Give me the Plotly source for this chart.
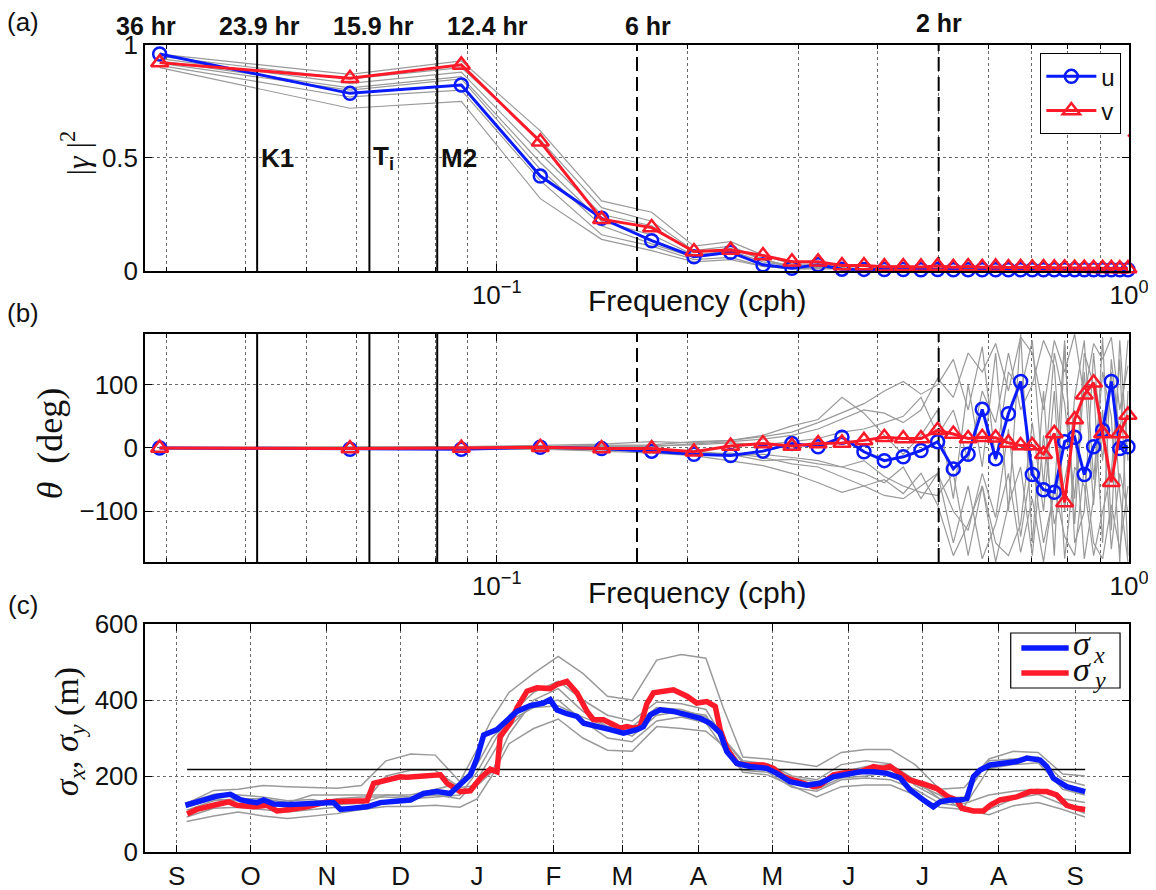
import math
import pandas as pd
import plotly.graph_objects as go

# ---------------- Panel (a)/(b): coherence and phase vs frequency ----------------
freq = [0.0293, 0.0586, 0.0879, 0.1172, 0.1465, 0.1758, 0.2051, 0.2344, 0.2637, 0.2930,
        0.3223, 0.3516, 0.3809, 0.4102, 0.4395, 0.4688, 0.4981, 0.5274, 0.5567, 0.5860,
        0.6153, 0.6446, 0.6739, 0.7032, 0.7325, 0.7618, 0.7911, 0.8204, 0.8497, 0.8790,
        0.9083, 0.9376, 0.9669, 0.9962]

u_coh = [0.96, 0.786, 0.823, 0.42, 0.233, 0.134, 0.063, 0.083, 0.027, 0.012,
         0.027, 0.008, 0.007, 0.006, 0.006, 0.005, 0.006, 0.005, 0.005, 0.005,
         0.005, 0.005, 0.005, 0.005, 0.005, 0.005, 0.005, 0.005, 0.005, 0.005,
         0.005, 0.005, 0.005, 0.005]
v_coh = [0.922, 0.853, 0.912, 0.572, 0.229, 0.192, 0.086, 0.093, 0.068, 0.041,
         0.041, 0.024, 0.024, 0.019, 0.02, 0.018, 0.022, 0.016, 0.02, 0.016,
         0.018, 0.015, 0.016, 0.014, 0.015, 0.014, 0.014, 0.013, 0.013, 0.012,
         0.012, 0.012, 0.011, 0.011]
gray_coh = [
    [0.96, 0.87, 0.93, 0.62, 0.31, 0.26, 0.11, 0.13, 0.07, 0.03, 0.03, 0.02, 0.02, 0.01, 0.01, 0.01, 0.01,
     0.01, 0.01, 0.01, 0.01, 0.01, 0.01, 0.01, 0.01, 0.01, 0.01, 0.01, 0.01, 0.01, 0.01, 0.01, 0.01, 0.01],
    [0.95, 0.85, 0.90, 0.58, 0.28, 0.22, 0.09, 0.11, 0.05, 0.02, 0.02, 0.015, 0.01, 0.01, 0.01, 0.01, 0.01,
     0.01, 0.01, 0.01, 0.01, 0.01, 0.01, 0.01, 0.01, 0.01, 0.01, 0.01, 0.01, 0.01, 0.01, 0.01, 0.01, 0.01],
    [0.94, 0.83, 0.88, 0.52, 0.25, 0.20, 0.08, 0.10, 0.05, 0.02, 0.02, 0.01, 0.01, 0.01, 0.01, 0.01, 0.01,
     0.01, 0.01, 0.01, 0.01, 0.01, 0.01, 0.01, 0.01, 0.01, 0.01, 0.01, 0.01, 0.01, 0.01, 0.01, 0.01, 0.01],
    [0.93, 0.81, 0.86, 0.48, 0.22, 0.16, 0.07, 0.09, 0.04, 0.02, 0.015, 0.01, 0.01, 0.01, 0.01, 0.01, 0.01,
     0.01, 0.01, 0.01, 0.01, 0.01, 0.01, 0.01, 0.01, 0.01, 0.01, 0.01, 0.01, 0.01, 0.01, 0.01, 0.01, 0.01],
    [0.92, 0.80, 0.85, 0.45, 0.20, 0.12, 0.06, 0.08, 0.03, 0.01, 0.01, 0.01, 0.01, 0.01, 0.01, 0.01, 0.01,
     0.01, 0.01, 0.01, 0.01, 0.01, 0.01, 0.01, 0.01, 0.01, 0.01, 0.01, 0.01, 0.01, 0.01, 0.01, 0.01, 0.01],
    [0.91, 0.77, 0.80, 0.40, 0.16, 0.11, 0.05, 0.06, 0.02, 0.01, 0.01, 0.01, 0.01, 0.01, 0.01, 0.01, 0.01,
     0.01, 0.01, 0.01, 0.01, 0.01, 0.01, 0.01, 0.01, 0.01, 0.01, 0.01, 0.01, 0.01, 0.01, 0.01, 0.01, 0.01],
    [0.90, 0.72, 0.75, 0.32, 0.14, 0.09, 0.04, 0.05, 0.02, 0.01, 0.01, 0.01, 0.01, 0.01, 0.01, 0.01, 0.01,
     0.01, 0.01, 0.01, 0.01, 0.01, 0.01, 0.01, 0.01, 0.01, 0.01, 0.01, 0.01, 0.01, 0.01, 0.01, 0.01, 0.01],
]

u_phase = [0, -2, -2, 1, -1, -5, -10, -12, -5, 7, 2, 17, -6, -20, -14, -4, 10, -33, -10, 61,
           -17, 54, 105, -42, -66, -70, 10, 17, -42, 2, 28, 105, -1, 2]
v_phase = [0, -1, 0, 1, -1, -1, -6, 3, 7, 3, 7, 8, 12, 17, 15, 15, 28, 22, 15, 17,
           16, 8, 4, 4, -10, 23, -86, 45, 84, 103, 23, -54, 23, 52]
gray_phase = [
    [0, -1, 1, 2, 3, 2, 6, 10, 14, 20, 30, 45, 60, 55, 40, 60, 110, 80, 150, 120, 165, 90, 175, 150,
     60, 170, 120, 180, 80, 165, 140, 175, 60, 130],
    [0, -2, -1, -2, -5, -8, -12, -20, -28, -40, -55, -70, -60, -75, -80, -60, -40, -150, -60, -175,
     -120, -40, -165, -80, -180, -60, -140, -170, -30, -150, -175, -90, -160, -60],
    [1, 2, 2, 4, 6, 10, 8, 12, 20, 35, 45, 80, 55, 20, -10, 20, 60, -80, 100, -30, 150, -100, 180,
     -150, 90, -170, 160, -120, 120, -90, 175, -130, 170, -20],
    [-1, -2, -1, 0, -3, -6, -10, -8, -15, -25, -30, -45, -60, -50, -72, -40, -90, -170, -120, -60,
     -180, -90, -30, -170, 20, -120, -50, 30, -175, -80, 60, -160, -40, -100],
    [0, 0, 1, 1, 2, 3, 5, 8, 5, 10, 15, 25, 30, 40, 50, 80, 20, 60, -20, 90, 40, 150, 60, 100, 170,
     130, -100, 80, 170, -50, 120, 50, -180, 90],
    [0, -1, 0, -1, -2, -3, -5, -10, -20, -18, -25, -30, -40, -55, -30, -80, -40, -100, -130, -40,
     -110, 30, -140, -20, -150, -70, 170, -150, -100, 150, -20, 120, -70, -180],
    [0, 1, 1, 2, 4, 5, 10, 12, 18, 25, 40, 55, 70, 90, 105, 85, 100, 140, 60, 160, -20, 120, 90,
     170, -60, 150, 70, -80, 150, 100, -150, 140, 20, 170],
    [-1, -1, -2, -1, -2, -4, -6, -12, -10, -15, -20, -30, -20, -45, -60, -70, -75, -40, -170, -60,
     -150, -170, -120, 40, -100, 90, -175, -30, -60, -170, -100, -40, 140, -170],
]

# stray red point at right edge of panel (a)
stray_x = [1.0]
stray_y = [0.60]

# tidal / reference periods (hours)
solid_periods = [23.93, 15.9, 12.42]
solid_names = ["K1", "T<sub>i</sub>", "M2"]
dashed_periods = [6.0, 2.0]
top_labels = ["36 hr", "23.9 hr", "15.9 hr", "12.4 hr", "6 hr", "2 hr"]
top_label_periods = [36.0, 23.9, 15.9, 12.4, 6.0, 2.0]
top_label_shift = [1, 2, 4, 50, 11, 0]

# ---------------- Panel (c): sigma_x, sigma_y time series ----------------
start_date = "2010-09-01"   # day 0
sx_day = [3.5, 8.2, 12.3, 16.4, 21.8, 25.8, 29.9, 32.6, 35.3, 39.4, 46.1, 52.9, 61.0, 63.7, 66.5,
          73.2, 77.3, 82.7, 90.8, 94.9, 100.3, 105.7, 111.1, 115.2, 119.3, 122.0, 124.7, 130.1,
          134.2, 138.2, 143.6, 149.0, 151.7, 154.5, 158.5, 162.6, 165.3, 170.7, 176.1, 181.5,
          187.0, 189.6, 192.4, 196.4, 201.8, 207.3, 212.7, 216.7, 220.8, 223.5, 227.6, 233.0,
          239.8, 243.8, 249.2, 256.0, 261.4, 266.8, 272.3, 277.7, 283.1, 288.5, 293.9, 298.0,
          303.4, 307.4, 310.2, 314.2, 318.3, 321.0, 323.7, 326.4, 330.5, 335.9, 341.3, 345.4,
          350.8, 353.5, 356.2, 361.6, 365.7, 369.1]
sx_val = [123, 132, 139, 147, 152, 138, 132, 130, 137, 126, 125, 128, 132, 130, 112,
          115, 119, 130, 137, 137, 154, 159, 154, 181, 203, 247, 308, 322,
          348, 370, 385, 392, 401, 374, 364, 357, 339, 332, 322, 313,
          322, 330, 361, 374, 370, 361, 352, 339, 313, 264, 233, 225,
          220, 207, 185, 176, 181, 198, 203, 211, 211, 207, 195, 163,
          137, 119, 132, 137, 137, 141, 198, 216, 229, 235, 238, 247,
          242, 225, 194, 172, 163, 159]
sy_day = [4.2, 8.2, 15.0, 21.1, 24.5, 31.2, 36.7, 40.7, 46.1, 52.9, 61.0, 71.8, 77.3, 80.0, 85.4,
          90.8, 93.5, 100.3, 107.1, 109.8, 115.2, 119.3, 123.3, 127.4, 130.1, 131.4, 135.5,
          138.2, 142.3, 146.3, 151.7, 154.5, 158.5, 162.6, 166.7, 169.3, 173.4, 177.5, 180.2,
          182.9, 185.6, 188.3, 191.0, 193.7, 197.8, 201.8, 207.3, 211.3, 215.4, 218.8, 220.8,
          223.5, 227.6, 231.6, 238.4, 242.5, 246.5, 252.0, 258.7, 261.4, 266.8, 272.3, 277.7,
          283.1, 287.1, 289.8, 293.9, 298.0, 303.4, 308.8, 313.5, 316.9, 319.0, 323.7, 327.8,
          330.5, 334.5, 341.3, 346.7, 353.5, 357.5, 361.6, 365.7, 369.1]
sy_val = [100, 112, 123, 132, 123, 119, 123, 108, 112, 119, 132, 132, 135, 181, 191,
          198, 197, 200, 203, 181, 159, 161, 194, 218, 211, 304, 339,
          379, 423, 432, 430, 441, 449, 419, 370, 348, 348, 335, 326,
          330, 326, 330, 390, 419, 423, 427, 410, 392, 396, 383, 322,
          273, 233, 229, 229, 220, 198, 185, 172, 176, 203, 209, 211,
          225, 220, 225, 209, 189, 179, 167, 145, 137, 115, 108, 108,
          123, 137, 145, 159, 159, 150, 123, 115, 112]

gray_day = [4, 15, 25, 35, 45, 55, 65, 75, 85, 95, 105, 115, 122, 128, 135, 145, 155, 165, 175,
            185, 195, 205, 215, 222, 230, 240, 250, 260, 270, 280, 290, 300, 310, 320, 330, 340,
            350, 360, 369]
gray_sigma = [
    [128, 162, 165, 175, 172, 170, 168, 175, 240, 258, 255, 185, 270, 350, 420, 470, 515, 470, 410,
     400, 505, 520, 510, 380, 250, 245, 235, 225, 262, 270, 270, 230, 165, 170, 245, 265, 262, 205, 200],
    [80, 95, 105, 95, 88, 94, 101, 112, 120, 120, 123, 118, 140, 200, 285, 325, 350, 300, 268,
     265, 330, 325, 318, 280, 210, 203, 175, 145, 172, 176, 176, 150, 118, 112, 98, 122, 130, 112, 92],
    [130, 152, 150, 145, 135, 138, 125, 128, 150, 150, 165, 180, 230, 300, 345, 380, 385, 355, 330,
     330, 380, 375, 355, 300, 235, 225, 195, 185, 210, 225, 230, 190, 140, 145, 240, 245, 250, 190, 175],
    [92, 115, 118, 112, 105, 112, 118, 120, 200, 215, 215, 170, 175, 210, 310, 400, 430, 370, 330,
     305, 360, 370, 360, 290, 225, 218, 188, 165, 195, 200, 210, 180, 150, 108, 112, 140, 152, 125, 102],
    [110, 135, 140, 140, 130, 150, 150, 150, 150, 145, 150, 140, 190, 255, 330, 390, 400, 345, 300,
     290, 345, 355, 340, 275, 215, 210, 170, 160, 190, 195, 190, 165, 128, 120, 220, 230, 235, 165, 150],
    [118, 140, 135, 128, 118, 125, 140, 145, 145, 140, 145, 150, 210, 280, 360, 420, 450, 400, 360,
     345, 395, 390, 375, 300, 240, 232, 200, 190, 230, 240, 232, 175, 140, 128, 150, 160, 165, 140, 130],
]
ref_day = [4.2, 369.1]
ref_val = [217, 217]

month_ticks = ["2010-09-01", "2010-10-01", "2010-11-01", "2010-12-01", "2011-01-01", "2011-02-01",
               "2011-03-01", "2011-04-01", "2011-05-01", "2011-06-01", "2011-07-01", "2011-08-01",
               "2011-09-01"]
month_labels = ["S", "O", "N", "D", "J", "F", "M", "A", "M", "J", "J", "A", "S"]
c_range = ["2010-08-19 02:00", "2011-09-22 22:00"]

# ---------------- helpers ----------------
base = pd.Timestamp(start_date)


def to_dates(days):
    return [base + pd.Timedelta(days=d) for d in days]


SANS = "Liberation Sans, Arial, Helvetica, sans-serif"
SERIF = "Liberation Serif, Times New Roman, DejaVu Serif, serif"
BLUE = "#0a1aff"
RED = "#ff1a2a"
GRAY = "#9a9a9a"
GRIDC = "#6a6a6a"

fig = go.Figure()

# ---- panel (a) ----
for g in gray_coh:
    fig.add_trace(go.Scatter(x=freq, y=g, mode="lines", line=dict(color=GRAY, width=1.2),
                             showlegend=False, hoverinfo="skip", xaxis="x", yaxis="y"))
for p in solid_periods:
    fig.add_trace(go.Scatter(x=[1 / p, 1 / p], y=[0, 1], mode="lines",
                             line=dict(color="black", width=2), showlegend=False,
                             xaxis="x", yaxis="y"))
for p in dashed_periods:
    fig.add_trace(go.Scatter(x=[1 / p, 1 / p], y=[0, 1], mode="lines",
                             line=dict(color="black", width=2, dash="14px,6px"), showlegend=False,
                             xaxis="x", yaxis="y"))
fig.add_trace(go.Scatter(x=freq, y=u_coh, mode="lines+markers", name="u",
                         line=dict(color=BLUE, width=3),
                         marker=dict(symbol="circle-open", size=13, color=BLUE, line=dict(width=2.5)),
                         cliponaxis=False, legend="legend", xaxis="x", yaxis="y"))
fig.add_trace(go.Scatter(x=freq, y=v_coh, mode="lines+markers", name="v",
                         line=dict(color=RED, width=3),
                         marker=dict(symbol="triangle-up-open", size=15, color=RED, line=dict(width=2.5)),
                         cliponaxis=False, legend="legend", xaxis="x", yaxis="y"))
fig.add_trace(go.Scatter(x=stray_x, y=stray_y, mode="markers", marker=dict(color=RED, size=3),
                         cliponaxis=False, showlegend=False, xaxis="x", yaxis="y"))

# ---- panel (b) ----
for g in gray_phase:
    fig.add_trace(go.Scatter(x=freq, y=g, mode="lines", line=dict(color=GRAY, width=1.2),
                             showlegend=False, hoverinfo="skip", xaxis="x2", yaxis="y2"))
for p in solid_periods:
    fig.add_trace(go.Scatter(x=[1 / p, 1 / p], y=[-180, 180], mode="lines",
                             line=dict(color="black", width=2), showlegend=False,
                             xaxis="x2", yaxis="y2"))
for p in dashed_periods:
    fig.add_trace(go.Scatter(x=[1 / p, 1 / p], y=[-180, 180], mode="lines",
                             line=dict(color="black", width=2, dash="14px,6px"), showlegend=False,
                             xaxis="x2", yaxis="y2"))
fig.add_trace(go.Scatter(x=freq, y=u_phase, mode="lines+markers", name="u",
                         line=dict(color=BLUE, width=3),
                         marker=dict(symbol="circle-open", size=13, color=BLUE, line=dict(width=2.5)),
                         cliponaxis=False, showlegend=False, xaxis="x2", yaxis="y2"))
fig.add_trace(go.Scatter(x=freq, y=v_phase, mode="lines+markers", name="v",
                         line=dict(color=RED, width=3),
                         marker=dict(symbol="triangle-up-open", size=15, color=RED, line=dict(width=2.5)),
                         cliponaxis=False, showlegend=False, xaxis="x2", yaxis="y2"))

# ---- panel (c) ----
gdates = to_dates(gray_day)
for g in gray_sigma:
    fig.add_trace(go.Scatter(x=gdates, y=g, mode="lines", line=dict(color=GRAY, width=1.5),
                             showlegend=False, hoverinfo="skip", xaxis="x3", yaxis="y3"))
fig.add_trace(go.Scatter(x=to_dates(ref_day), y=ref_val, mode="lines",
                         line=dict(color="black", width=1.5), showlegend=False,
                         xaxis="x3", yaxis="y3"))
fig.add_trace(go.Scatter(x=to_dates(sy_day), y=sy_val, mode="lines", name="σy",
                         line=dict(color=RED, width=5.5), showlegend=False,
                         xaxis="x3", yaxis="y3"))
fig.add_trace(go.Scatter(x=to_dates(sx_day), y=sx_val, mode="lines", name="σx",
                         line=dict(color=BLUE, width=5.5), showlegend=False,
                         xaxis="x3", yaxis="y3"))

# ---------------- axes ----------------
minor_vals = [0.03, 0.04, 0.05, 0.06, 0.07, 0.08, 0.09, 0.2, 0.3, 0.4, 0.5, 0.6, 0.7, 0.8, 0.9]
common = dict(showline=True, linecolor="black", linewidth=1.5, mirror="ticks",
              ticks="inside", ticklen=7, tickwidth=1, tickcolor="black", automargin=False,
              showgrid=True, gridcolor=GRIDC, griddash="dot", gridwidth=1, zeroline=False,
              tickfont=dict(family=SANS, size=26, color="#111"))
logx = dict(common, type="log", range=[math.log10(1 / 36), 0],
            tickmode="array", tickvals=[0.1, 1],
            ticktext=["10<sup>−1</sup>", "10<sup>0</sup>"],
            minor=dict(tickmode="array", tickvals=minor_vals, ticks="inside", ticklen=4,
                       tickcolor="black", showgrid=True, gridcolor=GRIDC, griddash="dot",
                       gridwidth=1))

# the page body adds an 8 px margin, so the figure is 8 px smaller than the window
fig.update_layout(
    width=1148, height=882,
    margin=dict(l=137, r=27, t=37, b=38, autoexpand=False),
    paper_bgcolor="white", plot_bgcolor="white",
    font=dict(family=SANS, size=25, color="#111"),
    xaxis=dict(logx, domain=[0, 1], anchor="y"),
    yaxis=dict(common, domain=[0.72, 1.0], anchor="x", range=[0, 1],
               tickmode="array", tickvals=[0, 0.5, 1], ticktext=["0", "0.5", "1"]),
    xaxis2=dict(logx, domain=[0, 1], anchor="y2"),
    yaxis2=dict(common, domain=[0.3594, 0.6419], anchor="x2", range=[-180, 180],
                tickmode="array", tickvals=[-100, 0, 100], ticktext=["−100", "0", "100"]),
    xaxis3=dict(common, domain=[0, 1], anchor="y3", type="date", range=c_range,
                tickmode="array", tickvals=month_ticks, ticktext=month_labels),
    yaxis3=dict(common, domain=[0, 0.2825], anchor="x3", range=[0, 600],
                tickmode="array", tickvals=[0, 200, 400, 600]),
    legend=dict(x=0.992, y=0.99, xanchor="right", yanchor="top", bgcolor="white",
                bordercolor="black", borderwidth=1.2, font=dict(family=SANS, size=24),
                itemwidth=50, tracegroupgap=0),
    showlegend=True,
)

annotations = []
shapes = []
# top period labels
for lab, per, sh in zip(top_labels, top_label_periods, top_label_shift):
    annotations.append(dict(x=math.log10(1 / per), y=1.0235 if lab != "2 hr" else 1.027,
                            xref="x", yref="paper", text=f"<b>{lab}</b>", showarrow=False,
                            xshift=sh, xanchor="center", yanchor="middle", borderpad=0,
                            font=dict(family=SANS, size=25, color="#111")))
# tidal constituent labels
for nm, per in zip(solid_names, solid_periods):
    annotations.append(dict(x=math.log10(1 / per), y=0.5, xref="x", yref="y",
                            text=f"<b>{nm}</b>", showarrow=False, xanchor="left",
                            yanchor="middle", xshift=2,
                            font=dict(family=SANS, size=26, color="#111")))
# panel letters
for lab, yy in [("(a)", 1.0285), ("(b)", 0.668), ("(c)", 0.306)]:
    annotations.append(dict(x=-0.1236, y=yy, xref="paper", yref="paper", text=lab,
                            showarrow=False, xanchor="center", yanchor="middle",
                            font=dict(family=SANS, size=26, color="#111")))
# x titles
for yy in [0.684, 0.321]:
    annotations.append(dict(x=0.561, y=yy, xref="paper", yref="paper", text="Frequency (cph)",
                            showarrow=False, xanchor="center", yanchor="middle",
                            font=dict(family=SANS, size=30, color="#111")))
# y titles
annotations.append(dict(x=-0.0708, y=0.866, xref="paper", yref="paper",
                        text="|<i>γ</i> |<sup>2</sup>", textangle=-90, showarrow=False,
                        xanchor="center", yanchor="middle",
                        font=dict(family=SERIF, size=32, color="#111")))
annotations.append(dict(x=-0.0962, y=0.5068, xref="paper", yref="paper",
                        text="<i>θ</i>  (deg)", textangle=-90, showarrow=False,
                        xanchor="center", yanchor="middle",
                        font=dict(family=SERIF, size=36, color="#111")))
annotations.append(dict(x=-0.077, y=0.1487, xref="paper", yref="paper",
                        text="<i>σ</i><sub><i>x</i></sub>, <i>σ</i><sub><i>y</i></sub> (m)",
                        textangle=-90, showarrow=False, xanchor="center", yanchor="middle",
                        font=dict(family=SERIF, size=34, color="#111")))

# legend box for panel (c)
shapes.append(dict(type="rect", xref="paper", yref="paper", x0=0.8798, x1=0.9909,
                   y0=0.2032, y1=0.2714, line=dict(color="black", width=1.2),
                   fillcolor="white", layer="above"))
legend_c = [("x", BLUE, 0.2528), ("y", RED, 0.2218)]
for sub, col, yy in legend_c:
    shapes.append(dict(type="line", xref="paper", yref="paper", x0=0.8906, x1=0.9387,
                       y0=yy, y1=yy, line=dict(color=col, width=5.5), layer="above"))
    annotations.append(dict(x=0.9420, y=yy, xref="paper", yref="paper", text="<i>σ</i>",
                            showarrow=False, xanchor="left", yanchor="middle", yshift=4,
                            borderpad=0,
                            font=dict(family=SERIF, size=34, color="#111")))
    annotations.append(dict(x=0.9625, y=yy, xref="paper", yref="paper", text=f"<i>{sub}</i>",
                            showarrow=False, xanchor="left", yanchor="middle", yshift=-7,
                            borderpad=0,
                            font=dict(family=SERIF, size=24, color="#111")))

fig.update_layout(annotations=annotations, shapes=shapes)

fig.write_html("out.html")
